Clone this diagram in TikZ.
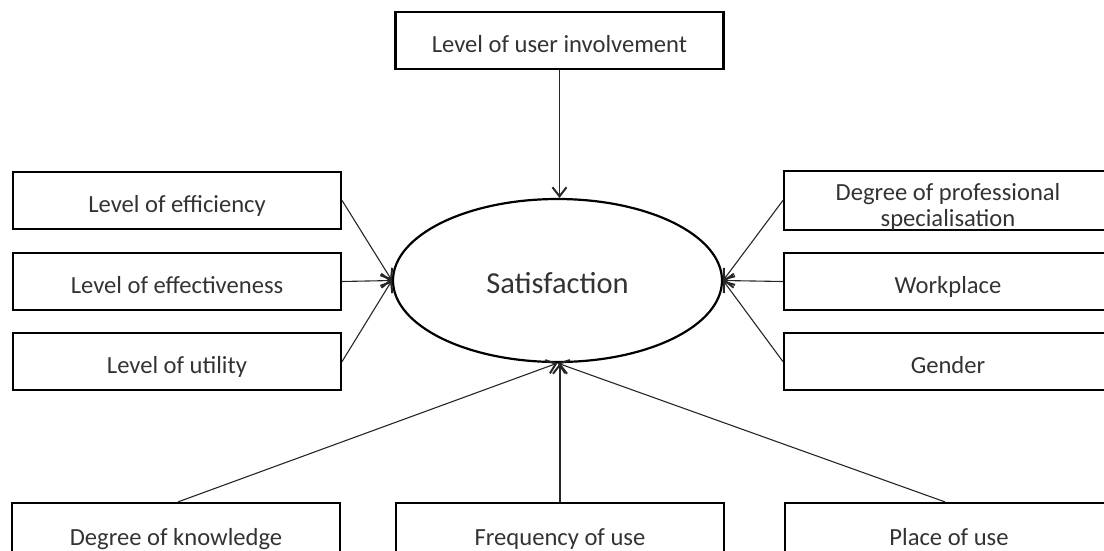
\documentclass[tikz,border=0pt]{standalone}
\usepackage{fontspec}
\setmainfont{Carlito}
\usetikzlibrary{shapes.geometric,arrows.meta}

\tikzset{
  factor/.style={draw=black, line width=2.2pt, rectangle, minimum width=328pt,
    minimum height=57pt, inner sep=0pt, align=center, text=black!80,
    font=\fontsize{24.6}{26}\selectfont},
  oneline/.style={text height=23pt, text depth=0pt},
  outcome/.style={draw=black, line width=2.2pt, ellipse, minimum width=329pt,
    minimum height=163pt, inner sep=0pt, text=black!80,
    font=\fontsize{30.5}{33}\selectfont},
  link/.style={line width=1.1pt, draw=black!85,
    -{Straight Barb[length=9pt,width=14pt,line width=2pt]}},
}

\begin{document}
\begin{tikzpicture}[x=1pt, y=-1pt]
  \useasboundingbox (0,0) rectangle (1104,550);
  \clip (0,0) rectangle (1104,550);

  % central construct
  \node[outcome, text height=30pt, text depth=4pt] (sat) at (557.5,280.5) {Satisfaction};

  % top factor
  \node[factor, oneline] (inv) at (559.5,40.5) {Level of user involvement};

  % left column
  \node[factor, oneline] (eff)  at (177,200.5) {Level of efficiency};
  \node[factor, oneline] (efv)  at (177,281.5) {Level of effectiveness};
  \node[factor, oneline] (uti)  at (177,361.5) {Level of utility};

  % right column
  \node[factor] (prof) at (948,200.5)
    {\parbox[c][55pt][b]{300pt}{\centering Degree of professional\\specialisation}};
  \node[factor, oneline] (work) at (948,281.5) {Workplace};
  \node[factor, oneline] (gen)  at (948,361.5) {Gender};

  % bottom row (boxes run off the lower edge)
  \node[factor, oneline, minimum height=61pt] (know) at (176,533.5) {Degree of knowledge};
  \node[factor, oneline, minimum height=61pt] (freq) at (560,533.5) {Frequency of use};
  \node[factor, oneline, minimum height=61pt] (plc)  at (949,533.5) {Place of use};

  % influences on satisfaction
  \draw[link] (inv.south) -- (inv.south |- sat.north);

  \draw[link] (eff.east) -- (sat.west);
  \draw[link] (efv.east) -- (sat.west);
  \draw[link] (uti.east) -- (sat.west);

  \draw[link] (prof.west) -- (sat.east);
  \draw[link] (work.west) -- (sat.east);
  \draw[link] (gen.west)  -- (sat.east);

  \draw[link] ([xshift=2pt]know.north) -- (sat.south);
  \draw[link] (freq.north) -- (freq.north |- sat.south);
  \draw[link] ([xshift=-4pt]plc.north) -- (sat.south);
\end{tikzpicture}
\end{document}
